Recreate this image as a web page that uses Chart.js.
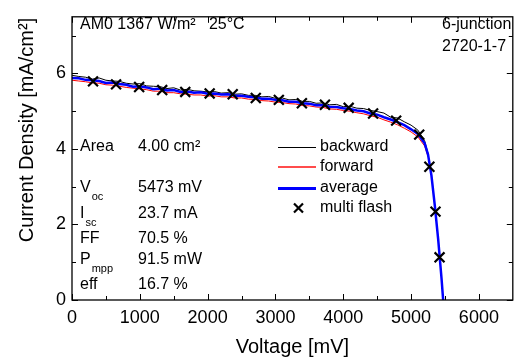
<!DOCTYPE html>
<html lang="en">
<head>
<meta charset="utf-8">
<title>IV curve 6-junction</title>
<style type="text/css">
  body { margin: 0; overflow: hidden; background: #fff; }
  #wrap { width: 522px; height: 360px; }
</style>
</head>
<body>
<div id="wrap"><canvas id="ivChart"></canvas></div>

<script src="https://cdn.jsdelivr.net/npm/chart.js"></script>
<script>
  // voltage grid of the sweeps (mV)
  const sweepV = [0,100,200,300,400,500,600,700,800,900,1000,1100,1200,1300,1400,1500,1600,1700,1800,1900,
                  2000,2100,2200,2300,2400,2500,2600,2700,2800,2900,3000,3100,3200,3300,3400,3500,3600,3700,3800,3900,
                  4000,4100,4200,4300,4400,4500,4600,4700,4800,4900,5000,5100,5200,5250];
  // current density (mA/cm2)
  const backwardJ = [5.95,5.92,5.90,5.85,5.88,5.82,5.80,5.79,5.74,5.72,5.73,5.67,5.66,5.65,5.60,5.62,5.56,5.58,5.54,5.53,
                     5.51,5.52,5.48,5.49,5.45,5.46,5.42,5.42,5.38,5.39,5.34,5.35,5.30,5.31,5.26,5.26,5.21,5.22,5.17,5.18,
                     5.12,5.13,5.08,5.07,5.02,4.99,4.95,4.84,4.82,4.72,4.63,4.50,4.22,3.88];
  const forwardJ  = [5.82,5.80,5.78,5.75,5.74,5.70,5.69,5.66,5.63,5.61,5.59,5.57,5.53,5.53,5.49,5.49,5.46,5.45,5.43,5.43,
                     5.40,5.41,5.38,5.38,5.35,5.35,5.32,5.31,5.28,5.27,5.24,5.23,5.20,5.19,5.15,5.14,5.11,5.10,5.06,5.05,
                     5.02,5.00,4.96,4.93,4.88,4.84,4.77,4.71,4.64,4.55,4.45,4.32,4.08,3.80];
  const avgV = [0,100,200,300,400,500,600,700,800,900,1000,1100,1200,1300,1400,1500,1600,1700,1800,1900,
                2000,2100,2200,2300,2400,2500,2600,2700,2800,2900,3000,3100,3200,3300,3400,3500,3600,3700,3800,3900,
                4000,4100,4200,4300,4400,4500,4600,4700,4800,4900,5000,5100,5200,5250,5300,5350,5400,5450,5473];
  const avgJ = [5.88,5.87,5.83,5.82,5.80,5.75,5.76,5.72,5.70,5.65,5.66,5.63,5.58,5.60,5.55,5.56,5.51,5.52,5.49,5.50,
                5.46,5.47,5.44,5.45,5.41,5.41,5.38,5.37,5.33,5.33,5.30,5.29,5.25,5.25,5.21,5.20,5.16,5.16,5.12,5.11,
                5.08,5.06,5.02,5.00,4.94,4.91,4.84,4.78,4.71,4.63,4.52,4.40,4.15,3.85,3.30,2.50,1.60,0.55,0];
  const flashV = [310,650,990,1330,1670,2030,2370,2710,3050,3390,3730,4080,4440,4780,5120,5270,5360,5420];
  const flashJ = [5.79,5.71,5.64,5.56,5.51,5.47,5.45,5.35,5.30,5.21,5.17,5.09,4.94,4.75,4.38,3.53,2.34,1.13];

  const xMajor = [0,1000,2000,3000,4000,5000,6000];
  const xMinor = [500,1500,2500,3500,4500,5500];
  const yMajor = [0,2,4,6];
  const yMinor = [1,3,5,7];

  const headText = 'AM0 1367 W/m²   25°C';
  const cellText = ['6-junction', '2720-1-7'];
  // [label, subscript, value]
  const infoRows = [
    ['Area', '', '4.00 cm²', 147],
    ['V', 'oc', '5473 mV', 188],
    ['I', 'sc', '23.7 mA', 214],
    ['FF', '', '70.5 %', 239],
    ['P', 'mpp', '91.5 mW', 260],
    ['eff', '', '16.7 %', 285]
  ];

  const FONT = '"Liberation Sans", Arial, sans-serif';

  function pairs(xs, ys) {
    return xs.map((v, i) => ({x: v, y: ys[i]}));
  }

  // frame, inward ticks, titles, legend and text boxes
  const decor = {
    id: 'decor',
    afterDraw(chart) {
      const ctx = chart.ctx;
      const a = chart.chartArea;
      const sx = chart.scales.x, sy = chart.scales.y;
      ctx.save();
      ctx.strokeStyle = '#000';
      ctx.lineWidth = 1.3;
      ctx.strokeRect(a.left, a.top, a.right - a.left, a.bottom - a.top);
      ctx.lineWidth = 1;
      ctx.beginPath();
      const tickX = (v, len) => {
        const p = Math.round(sx.getPixelForValue(v)) + 0.5;
        ctx.moveTo(p, a.bottom); ctx.lineTo(p, a.bottom - len);
        ctx.moveTo(p, a.top); ctx.lineTo(p, a.top + len);
      };
      const tickY = (v, len) => {
        const p = Math.round(sy.getPixelForValue(v)) + 0.5;
        ctx.moveTo(a.left, p); ctx.lineTo(a.left + len, p);
        ctx.moveTo(a.right, p); ctx.lineTo(a.right - len, p);
      };
      xMajor.forEach(v => tickX(v, 6));
      xMinor.forEach(v => tickX(v, 4));
      yMajor.forEach(v => tickY(v, 6));
      yMinor.forEach(v => tickY(v, 4));
      ctx.stroke();

      ctx.fillStyle = '#000';
      ctx.textBaseline = 'middle';
      // axis titles
      ctx.font = '20px ' + FONT;
      ctx.textAlign = 'center';
      ctx.fillText('Voltage [mV]', (a.left + a.right) / 2, 347);
      ctx.save();
      ctx.translate(27, 130);
      ctx.rotate(-Math.PI / 2);
      ctx.fillText('Current Density [mA/cm²]', 0, 0);
      ctx.restore();

      // text boxes
      ctx.textAlign = 'left';
      ctx.font = '16px ' + FONT;
      ctx.fillText(headText, 80, 25);
      ctx.fillText(cellText[0], 442, 25);
      ctx.fillText(cellText[1], 442, 47);
      infoRows.forEach(r => {
        ctx.font = '16px ' + FONT;
        ctx.fillText(r[0], 80, r[3]);
        const w = ctx.measureText(r[0]).width;
        ctx.fillText(r[2], 138, r[3]);
        if (r[1]) {
          ctx.font = '11px ' + FONT;
          ctx.fillText(r[1], 80 + w + 1, r[3] + 9);
        }
      });

      // legend
      ctx.font = '16px ' + FONT;
      const legY = [147, 167, 188, 208];
      const ds = chart.data.datasets;
      ds.forEach((d, i) => {
        const yy = legY[i];
        if (d.showLine === false) {
          ctx.strokeStyle = d.borderColor;
          ctx.lineWidth = 2.2;
          ctx.beginPath();
          ctx.moveTo(294, yy - 4.5); ctx.lineTo(303, yy + 4.5);
          ctx.moveTo(303, yy - 4.5); ctx.lineTo(294, yy + 4.5);
          ctx.stroke();
        } else if (d.borderColor === '#000000') {
          ctx.fillStyle = d.borderColor;
          ctx.fillRect(278, yy, 38, 1);
        } else if (d.borderWidth === 1) {
          ctx.fillStyle = d.borderColor;
          ctx.globalAlpha = 0.7;
          ctx.fillRect(278, yy - 1, 38, 2);
          ctx.globalAlpha = 1;
        } else {
          ctx.fillStyle = d.borderColor;
          ctx.fillRect(278, yy - 1, 38, 3);
        }
        ctx.fillStyle = '#000';
        ctx.fillText(d.label, 320, yy);
      });
      ctx.restore();
    }
  };

  const ctxEl = document.getElementById('ivChart');
  const ivChart = new Chart(ctxEl, {
    type: 'scatter',
    data: {
      datasets: [
        {label: 'backward', data: pairs(sweepV, backwardJ), showLine: true, borderColor: '#000000',
         borderWidth: 1, pointRadius: 0, order: 3},
        {label: 'forward', data: pairs(sweepV, forwardJ), showLine: true, borderColor: '#ff0000',
         borderWidth: 1, pointRadius: 0, order: 2},
        {label: 'average', data: pairs(avgV, avgJ), showLine: true, borderColor: '#0000ff',
         borderWidth: 2.5, pointRadius: 0, order: 1},
        {label: 'multi flash', data: pairs(flashV, flashJ), showLine: false, borderColor: '#000000',
         pointStyle: 'crossRot', pointRadius: 7, pointBorderWidth: 2.2, order: 0}
      ]
    },
    options: {
      responsive: true,
      maintainAspectRatio: false,
      animation: false,
      layout: {padding: {top: 9, right: 4, left: 0, bottom: 0}},
      plugins: {legend: {display: false}, tooltip: {enabled: false}},
      scales: {
        x: {
          type: 'linear', min: 0, max: 6500,
          grid: {display: false, drawTicks: false},
          border: {display: false},
          afterBuildTicks: (axis) => { axis.ticks = xMajor.map(v => ({value: v})); },
          afterFit: (s) => { s.height = 60; },
          ticks: {padding: 7, color: '#000', font: {family: FONT, size: 18}, callback: (v) => String(v)}
        },
        y: {
          type: 'linear', min: 0, max: 7.5,
          grid: {display: false, drawTicks: false},
          border: {display: false},
          afterBuildTicks: (axis) => { axis.ticks = yMajor.map(v => ({value: v})); },
          afterFit: (s) => { s.width = 72; },
          ticks: {padding: 6, color: '#000', font: {family: FONT, size: 18}, callback: (v) => String(v)}
        }
      }
    },
    plugins: [decor]
  });
</script>
</body>
</html>
